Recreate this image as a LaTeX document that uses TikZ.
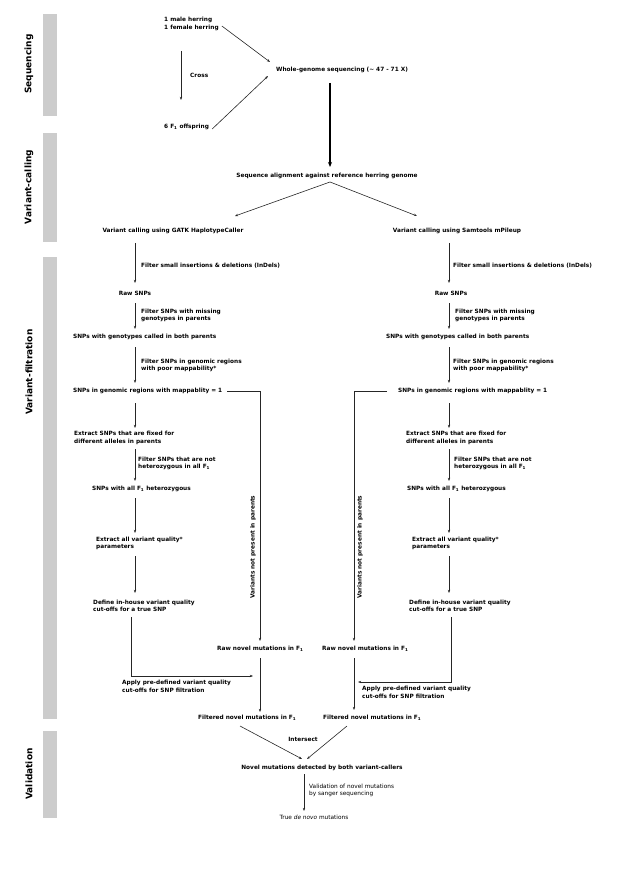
\documentclass[tikz,border=0pt]{standalone}
\usepackage{fontspec}
\setmainfont{DejaVu Sans}
\usetikzlibrary{arrows.meta,calc}
\begin{document}
\begin{tikzpicture}[x=1pt,y=-1pt,
  txt/.style={font=\fontsize{5.8}{7.5}\selectfont\bfseries, inner sep=0pt, align=left, anchor=west},
  ctxt/.style={txt, anchor=center, align=center},
  rtxt/.style={font=\fontsize{5.8}{7.5}\selectfont, inner sep=0pt, align=left, anchor=west},
  conn/.style={draw=black!85, line width=0.6pt, -{Stealth[length=3.2pt,width=2.4pt]}},
  bigconn/.style={draw=black, line width=1.1pt, -{Stealth[length=5pt,width=4pt]}},
  bar/.style={fill=black!20, draw=none},
  side/.style={font=\fontsize{9}{10}\selectfont\bfseries, rotate=90, inner sep=0pt},
  vtxt/.style={font=\fontsize{5.8}{7.5}\selectfont\bfseries, rotate=90, inner sep=0pt}
]
\useasboundingbox (0,0) rectangle (617,874);
% side bars
\fill[bar] (43,14) rectangle (57,116);
\fill[bar] (43,133) rectangle (57,242);
\fill[bar] (43,257) rectangle (57,719);
\fill[bar] (43,731) rectangle (57,818);
\node[side] (sSeq) at (29,64) {Sequencing};
\node[side] (sVC) at (29,187) {Variant-calling};
\node[side] (sVF) at (29,372) {Variant-filtration};
\node[side] (sVal) at (29,774) {Validation};

% axes
\coordinate (cx) at (181,0);
\coordinate (bx) at (330,0);
\coordinate (axL) at (135,0);
\coordinate (axR) at (449,0);
\coordinate (dL) at (131,0);
\coordinate (dR) at (451,0);
\coordinate (vL) at (260,0);
\coordinate (vR) at (354,0);
\coordinate (vx) at (304,0);

% top
\node[txt] (par) at (164,24) {1 male herring\\1 female herring};
\node[txt] (whole) at (276,70) {Whole-genome sequencing (∼ 47 - 71 X)};
\node[txt] (cross) at (190,75) {Cross};
\node[txt] (off) at (164,127) {6 F\textsubscript{1} offspring};
\node[ctxt] (align) at (327,176) {Sequence alignment against reference herring genome};
\node[ctxt] (gatk) at (173,231) {Variant calling using GATK HaplotypeCaller};
\node[ctxt] (sam) at (457,231) {Variant calling using Samtools mPileup};

\draw[conn] ($(par.center -| cx)+(0,27)$) -- ($(off.center -| cx)+(0,-27)$);
\draw[conn] ($(par.east)+(3,2)$) -- ($(whole.west)+(-6,-8)$);
\draw[conn] ($(off.east)+(3,2)$) -- ($(whole.west)+(-8,6)$);
\draw[bigconn] ($(whole.center -| bx)+(0,13)$) -- ($(align.center -| bx)+(0,-9)$);
\draw[conn] ($(align.center -| bx)+(0,6)$) -- ($(gatk.center)+(62,-15)$);
\draw[conn] ($(align.center -| bx)+(0,6)$) -- ($(sam.center)+(-40,-15)$);

% left column
\node[txt] (fL1) at (141,266) {Filter small insertions \& deletions (InDels)};
\node[ctxt] (rawL) at (135,293) {Raw SNPs};
\node[txt] (fL2) at (141,315.5) {Filter SNPs with missing\\genotypes in parents};
\node[txt] (genoL) at (73,337) {SNPs with genotypes called in both parents};
\node[txt] (fL3) at (141,365.5) {Filter SNPs in genomic regions\\with poor mappability*};
\node[txt] (mapL) at (73,391) {SNPs in genomic regions with mappablity = 1};
\node[txt] (extL) at (74,438) {Extract SNPs that are fixed for\\different alleles in parents};
\node[txt] (fL4) at (138,463.5) {Filter SNPs that are not\\heterozygous in all F\textsubscript{1}};
\node[txt] (hetL) at (92,489) {SNPs with all F\textsubscript{1} heterozygous};
\node[txt] (qualL) at (96,543.5) {Extract all variant quality*\\parameters};
\node[txt] (defL) at (93,606) {Define in-house variant quality\\cut-offs for a true SNP};
\node[txt] (appL) at (122,686.5) {Apply pre-defined variant quality\\cut-offs for SNP filtration};
\node[txt] (rawnL) at (217,649) {Raw novel mutations in F\textsubscript{1}};
\node[txt] (filtL) at (198,718) {Filtered novel mutations in F\textsubscript{1}};
\node[vtxt] (vnpL) at (253,547) {Variants not present in parents};

\draw[conn] ($(gatk.center -| axL)+(0,12)$) -- ($(rawL.center -| axL)+(0,-10)$);
\draw[conn] ($(rawL.center -| axL)+(0,10)$) -- ($(genoL.center -| axL)+(0,-8)$);
\draw[conn] ($(genoL.center -| axL)+(0,10)$) -- ($(mapL.center -| axL)+(0,-8)$);
\draw[conn] ($(mapL.center -| axL)+(0,12)$) -- ($(extL.center -| axL)+(0,-10)$);
\draw[conn] ($(extL.center -| axL)+(0,11)$) -- ($(hetL.center -| axL)+(0,-8)$);
\draw[conn] ($(hetL.center -| axL)+(0,9)$) -- ($(qualL.center -| axL)+(0,-10.5)$);
\draw[conn] ($(qualL.center -| axL)+(0,12.5)$) -- ($(defL.center -| axL)+(0,-13)$);
\draw[conn] ($(defL.center -| dL)+(0,11)$) |- ($(appL.center -| vL)+(-7,-10.5)$);
\draw[conn] ($(mapL.east)+(5,0)$) -| ($(rawnL.center -| vL)+(0,-8)$);
\draw[conn] ($(rawnL.center -| vL)+(0,9)$) -- ($(filtL.center -| vL)+(0,-6)$);

% right column
\node[txt] (fR1) at (453,266) {Filter small insertions \& deletions (InDels)};
\node[ctxt] (rawR) at (451,293) {Raw SNPs};
\node[txt] (fR2) at (455,315.5) {Filter SNPs with missing\\genotypes in parents};
\node[txt] (genoR) at (386,337) {SNPs with genotypes called in both parents};
\node[txt] (fR3) at (453,365.5) {Filter SNPs in genomic regions\\with poor mappability*};
\node[txt] (mapR) at (398,391) {SNPs in genomic regions with mappablity = 1};
\node[txt] (extR) at (406,438) {Extract SNPs that are fixed for\\different alleles in parents};
\node[txt] (fR4) at (454,463.5) {Filter SNPs that are not\\heterozygous in all F\textsubscript{1}};
\node[txt] (hetR) at (407,489) {SNPs with all F\textsubscript{1} heterozygous};
\node[txt] (qualR) at (412,543.5) {Extract all variant quality*\\parameters};
\node[txt] (defR) at (409,606) {Define in-house variant quality\\cut-offs for a true SNP};
\node[txt] (appR) at (362,692.5) {Apply pre-defined variant quality\\cut-offs for SNP filtration};
\node[txt] (rawnR) at (322,649) {Raw novel mutations in F\textsubscript{1}};
\node[txt] (filtR) at (323,718) {Filtered novel mutations in F\textsubscript{1}};
\node[vtxt] (vnpR) at (360,547) {Variants not present in parents};

\draw[conn] ($(sam.center -| axR)+(0,12)$) -- ($(rawR.center -| axR)+(0,-10)$);
\draw[conn] ($(rawR.center -| axR)+(0,10)$) -- ($(genoR.center -| axR)+(0,-8)$);
\draw[conn] ($(genoR.center -| axR)+(0,10)$) -- ($(mapR.center -| axR)+(0,-8)$);
\draw[conn] ($(mapR.center -| axR)+(0,12)$) -- ($(extR.center -| axR)+(0,-10)$);
\draw[conn] ($(extR.center -| axR)+(0,11)$) -- ($(hetR.center -| axR)+(0,-8)$);
\draw[conn] ($(hetR.center -| axR)+(0,9)$) -- ($(qualR.center -| axR)+(0,-10.5)$);
\draw[conn] ($(qualR.center -| axR)+(0,12.5)$) -- ($(defR.center -| axR)+(0,-13)$);
\draw[conn] ($(defR.center -| dR)+(0,11)$) |- ($(appR.center -| vR)+(4,-10.5)$);
\draw[conn] ($(mapR.west)+(-11,0)$) -| ($(rawnR.center -| vR)+(0,-8)$);
\draw[conn] ($(rawnR.center -| vR)+(0,9)$) -- ($(filtR.center -| vR)+(0,-8)$);

% bottom
\node[ctxt] (inter) at (303,739) {Intersect};
\node[ctxt] (novel) at (322,768) {Novel mutations detected by both variant-callers};
\node[rtxt] (valid) at (309,790.5) {Validation of novel mutations\\by sanger sequencing};
\node[font=\fontsize{5.8}{7.5}\selectfont, inner sep=0pt] (truen) at (314,817) {True \textit{de novo} mutations};

\draw[conn] ($(filtL.west)+(42,8)$) -- ($(novel.center)+(-20,-9)$);
\draw[conn] ($(filtR.west)+(24,8)$) -- ($(novel.center)+(-15,-9)$);
\draw[conn] ($(novel.center -| vx)+(0,6)$) -- ($(truen.center -| vx)+(0,-6)$);
\end{tikzpicture}
\end{document}
